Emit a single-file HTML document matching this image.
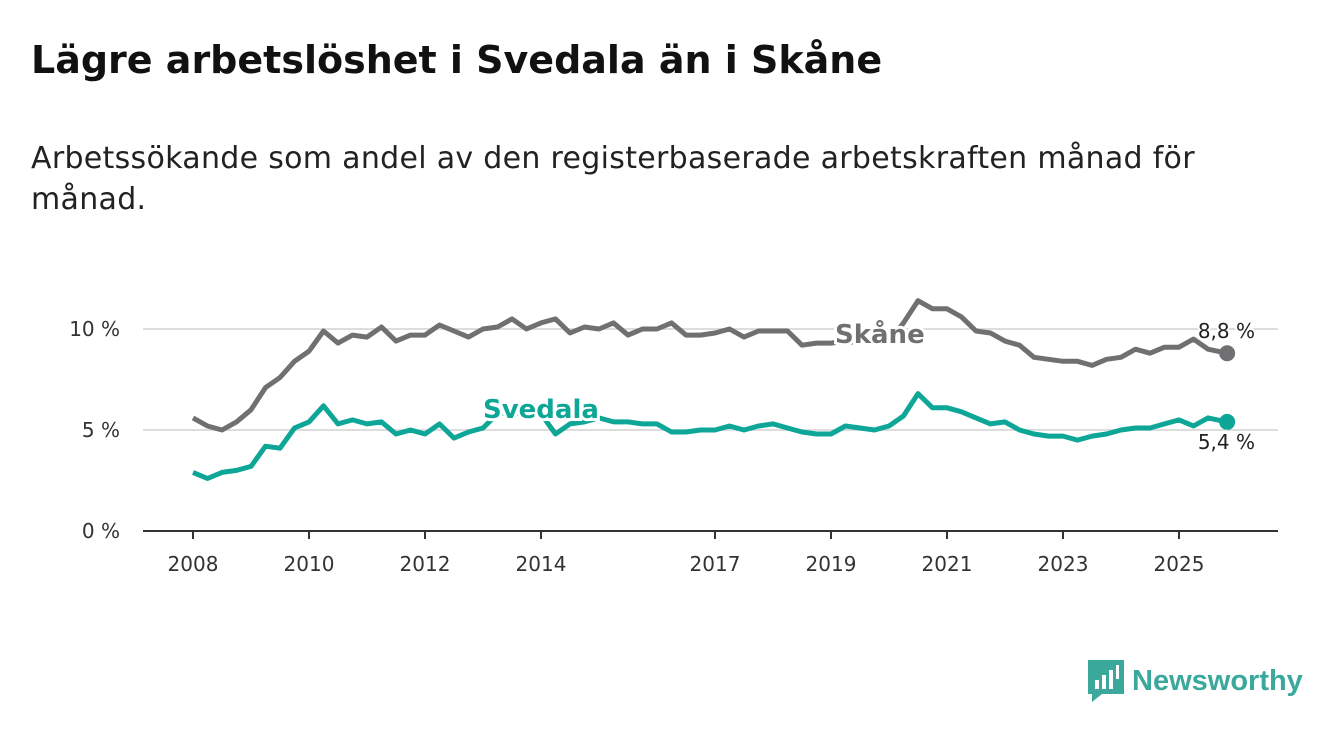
<!DOCTYPE html>
<html><head><meta charset="utf-8"><style>
body{margin:0;width:1340px;height:734px;background:#fff;font-family:"DejaVu Sans","Liberation Sans",sans-serif;position:relative;overflow:hidden}
#title{position:absolute;left:31px;top:38px;font-size:38px;font-weight:bold;color:#111;margin:0;letter-spacing:0px}
#sub{position:absolute;left:31px;top:138px;font-size:30px;line-height:41px;color:#222;width:1200px;letter-spacing:0.3px}
#logo{position:absolute;left:1088px;top:660px;display:flex;align-items:center}
#logo span{font-family:"Liberation Sans",sans-serif;font-size:29px;font-weight:bold;color:#3aa89b;margin-left:8px}
</style></head><body>
<h1 id="title">Lägre arbetslöshet i Svedala än i Skåne</h1>
<div id="sub">Arbetssökande som andel av den registerbaserade arbetskraften månad för månad.</div>
<svg id="chart" width="1340" height="734" style="position:absolute;left:0;top:0"></svg>
<div id="logo">
<svg width="36" height="42" viewBox="0 0 36 42"><path d="M0 0H36V34H14L4 42V34H0Z" fill="#3aa89b"/><rect x="7" y="20" width="4" height="9" fill="#fff"/><rect x="14" y="15" width="4" height="14" fill="#fff"/><rect x="21" y="10" width="4" height="19" fill="#fff"/><rect x="28" y="5" width="3" height="14" fill="#fff"/></svg>
<span>Newsworthy</span></div>
<script>
const skane=[5.6,5.2,5.0,5.4,6.0,7.1,7.6,8.4,8.9,9.9,9.3,9.7,9.6,10.1,9.4,9.7,9.7,10.2,9.9,9.6,10.0,10.1,10.5,10.0,10.3,10.5,9.8,10.1,10.0,10.3,9.7,10.0,10.0,10.3,9.7,9.7,9.8,10.0,9.6,9.9,9.9,9.9,9.2,9.3,9.3,9.4,9.3,9.4,9.4,10.3,11.4,11.0,11.0,10.6,9.9,9.8,9.4,9.2,8.6,8.5,8.4,8.4,8.2,8.5,8.6,9.0,8.8,9.1,9.1,9.5,9.0,8.8];
const svedala=[2.9,2.6,2.9,3.0,3.2,4.2,4.1,5.1,5.4,6.2,5.3,5.5,5.3,5.4,4.8,5.0,4.8,5.3,4.6,4.9,5.1,5.8,5.9,5.7,5.8,4.8,5.3,5.4,5.6,5.4,5.4,5.3,5.3,4.9,4.9,5.0,5.0,5.2,5.0,5.2,5.3,5.1,4.9,4.8,4.8,5.2,5.1,5.0,5.2,5.7,6.8,6.1,6.1,5.9,5.6,5.3,5.4,5.0,4.8,4.7,4.7,4.5,4.7,4.8,5.0,5.1,5.1,5.3,5.5,5.2,5.6,5.4];
const xTicks=[2008,2010,2012,2014,2017,2019,2021,2023,2025];
const yTicks=[0,5,10];
const startYear=2008, lastYear=2025.83;
const NS="http://www.w3.org/2000/svg", svg=document.getElementById('chart');
const X=y=>193+(y-startYear)*58, Y=v=>531-v*20.2;
function el(t,a,p){const e=document.createElementNS(NS,t);for(const k in a)e.setAttribute(k,a[k]);(p||svg).appendChild(e);return e;}
function tx(i,n){return i===n-1?lastYear:startYear+i*0.25;}
yTicks.forEach(v=>{
 const g=el('line',{x1:143,x2:1278,y1:Y(v),y2:Y(v),stroke:v===0?'#333':'#ddd','stroke-width':2});
 
 
 const t=el('text',{x:120,y:Y(v)+7,'text-anchor':'end','font-size':20,fill:'#333'});t.textContent=v+' %';
 
 
});
xTicks.forEach(v=>{
 const l=el('line',{x1:X(v),x2:X(v),y1:531,y2:539,stroke:'#333','stroke-width':2});
 
 
 const t=el('text',{x:X(v),y:571,'text-anchor':'middle','font-size':20,fill:'#333'});t.textContent=v;
 
 
});
function line(data,col,name){
 const d=data.map((v,i)=>(i?'L':'M')+X(tx(i,data.length)).toFixed(1)+' '+Y(v).toFixed(1)).join('');
 const p=el('path',{d:d,fill:'none',stroke:col,'stroke-width':5,'stroke-linejoin':'round'});
 
 
 const c=el('circle',{cx:X(lastYear),cy:Y(data[data.length-1]),r:8,fill:col});
 
 
}
line(skane,'#707073','skane');
line(svedala,'#0ea697','svedala');
function lab(s,x,y,col,name,bold,anchor){
 const t=el('text',{x:x,y:y,'font-size':bold?26:20,'font-weight':bold?'bold':'normal',fill:col,stroke:'#fff','stroke-width':bold?6:4,'paint-order':'stroke','text-anchor':anchor||'start'});t.textContent=s;
 
 
}
lab('Skåne',835,343,'#707073','skane-label',true);
lab('Svedala',483,418,'#0ea697','svedala-label',true);
lab('8,8 %',1255,338,'#222','skane-end-value',false,'end');
lab('5,4 %',1255,449,'#222','svedala-end-value',false,'end');
</script>
</body></html>
